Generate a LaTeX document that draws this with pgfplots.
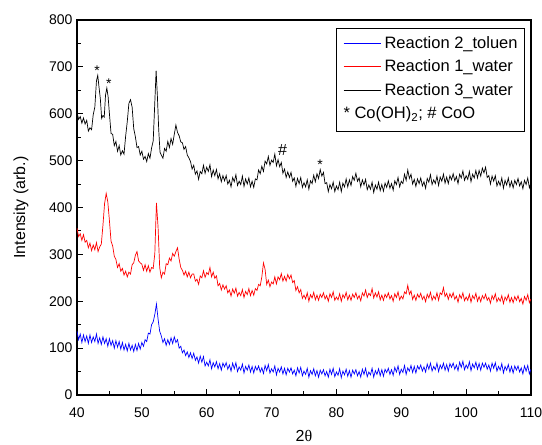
\documentclass[border=0pt]{standalone}
\usepackage{fontspec}
\setmainfont{Liberation Sans}
\newfontfamily\seriffont{Liberation Serif}
\usepackage{pgfplots}
\pgfplotsset{compat=1.18}
\newcommand{\legline}[1]{\textcolor{#1}{\rule{0pt}{0pt}}\textcolor{#1}{\rule[5pt]{37pt}{0.8pt}}\hspace{4pt}}
\begin{document}
\begin{tikzpicture}
\begin{axis}[
  scale only axis, width=454pt, height=375pt,
  xmin=40, xmax=110, ymin=0, ymax=800,
  xtick={40,50,...,110}, ytick={0,100,...,800},
  minor x tick num=1, minor y tick num=1,
  tick pos=left, tick align=inside,
  major tick length=6pt, minor tick length=4pt,
  axis line style={line width=1.1pt},
  every tick/.append style={line width=1pt, black},
  tick label style={font=\fontsize{14}{16}\selectfont},
  /pgf/number format/assume math mode=true,
  xticklabel style={yshift=-9pt},
  yticklabel style={xshift=-1pt},
  every axis y label/.style={at={(axis description cs:0,0.5)}, xshift=-56pt, rotate=90, anchor=center, font=\fontsize{16}{18}\selectfont},
  every axis x label/.style={at={(axis description cs:0.5,0)}, yshift=-41pt, anchor=center, font=\fontsize{16}{18}\selectfont},
  xlabel={2{\seriffont θ}},
  ylabel={Intensity (arb.)},
  legend style={at={(axis description cs:1,1)}, anchor=north east, xshift=-6pt, yshift=-8pt,
    font=\fontsize{16.5}{18}\selectfont, thick,
    nodes={inner sep=2pt, text height=11pt, text depth=4pt},
    inner xsep=5pt, inner ysep=7pt, row sep=4.5pt},
  legend cell align=left,
]
\addplot[draw=blue, line width=0.7pt, forget plot] coordinates {
(40,136) (40.25,118) (40.5,130) (40.75,112) (41,128) (41.25,114) (41.5,126) (41.75,110)
(42,128) (42.25,112) (42.5,124) (42.75,114) (43,130) (43.25,110) (43.5,122) (43.75,108)
(44,124) (44.25,110) (44.5,120) (44.75,104) (45,120) (45.25,106) (45.5,116) (45.75,100)
(46,116) (46.25,102) (46.5,114) (46.75,98) (47,112) (47.25,96) (47.5,108) (47.75,94)
(48,110) (48.25,96) (48.5,106) (48.75,93) (49,108) (49.25,95) (49.5,110) (49.75,98)
(50,112) (50.25,104) (50.5,118) (50.75,114) (51,132) (51.25,130) (51.5,150) (51.75,156)
(52,172) (52.25,194) (52.5,162) (52.75,136) (53,126) (53.25,112) (53.5,120) (53.75,106)
(54,118) (54.25,108) (54.5,122) (54.75,110) (55,124) (55.25,112) (55.5,118) (55.75,100)
(56,104) (56.25,90) (56.5,96) (56.75,84) (57,92) (57.25,80) (57.5,90) (57.75,78)
(58,89) (58.25,74) (58.5,81) (58.75,68) (59,83) (59.25,70) (59.5,82) (59.75,62)
(60,70) (60.25,62) (60.5,75) (60.75,56) (61,69) (61.25,60) (61.5,71) (61.75,56)
(62,67) (62.25,53) (62.5,68) (62.75,60) (63,69) (63.25,55) (63.5,64) (63.75,51)
(64,68) (64.25,56) (64.5,69) (64.75,50) (65,60) (65.25,53) (65.5,66) (65.75,47)
(66,61) (66.25,53) (66.5,64) (66.75,49) (67,61) (67.25,47) (67.5,61) (67.75,53)
(68,62) (68.25,49) (68.5,58) (68.75,46) (69,63) (69.25,52) (69.5,65) (69.75,47)
(70,56) (70.25,49) (70.5,62) (70.75,43) (71,57) (71.25,49) (71.5,60) (71.75,45)
(72,57) (72.25,43) (72.5,57) (72.75,49) (73,58) (73.25,45) (73.5,53) (73.75,41)
(74,58) (74.25,47) (74.5,59) (74.75,41) (75,51) (75.25,44) (75.5,57) (75.75,38)
(76,52) (76.25,44) (76.5,56) (76.75,41) (77,52) (77.25,38) (77.5,53) (77.75,45)
(78,54) (78.25,41) (78.5,50) (78.75,38) (79,55) (79.25,44) (79.5,57) (79.75,39)
(80,49) (80.25,42) (80.5,56) (80.75,37) (81,51) (81.25,43) (81.5,55) (81.75,40)
(82,52) (82.25,38) (82.5,53) (82.75,45) (83,54) (83.25,41) (83.5,50) (83.75,38)
(84,55) (84.25,44) (84.5,57) (84.75,39) (85,49) (85.25,43) (85.5,57) (85.75,38)
(86,52) (86.25,44) (86.5,56) (86.75,41) (87,54) (87.25,40) (87.5,55) (87.75,48)
(88,57) (88.25,44) (88.5,54) (88.75,42) (89,59) (89.25,49) (89.5,62) (89.75,44)
(90,55) (90.25,48) (90.5,63) (90.75,44) (91,58) (91.25,51) (91.5,63) (91.75,48)
(92,61) (92.25,47) (92.5,62) (92.75,55) (93,64) (93.25,51) (93.5,60) (93.75,49)
(94,66) (94.25,55) (94.5,68) (94.75,51) (95,61) (95.25,54) (95.5,68) (95.75,50)
(96,64) (96.25,56) (96.5,68) (96.75,53) (97,65) (97.25,51) (97.5,67) (97.75,59)
(98,68) (98.25,55) (98.5,64) (98.75,52) (99,70) (99.25,59) (99.5,72) (99.75,54)
(100,64) (100.25,57) (100.5,71) (100.75,52) (101,66) (101.25,58) (101.5,70) (101.75,55)
(102,67) (102.25,53) (102.5,68) (102.75,59) (103,68) (103.25,55) (103.5,64) (103.75,51)
(104,68) (104.25,57) (104.5,69) (104.75,51) (105,61) (105.25,53) (105.5,67) (105.75,47)
(106,61) (106.25,53) (106.5,65) (106.75,49) (107,61) (107.25,47) (107.5,62) (107.75,53)
(108,62) (108.25,49) (108.5,58) (108.75,45) (109,62) (109.25,51) (109.5,63) (109.75,45) (110,55)
};
\addplot[draw=red, line width=0.7pt, forget plot] coordinates {
(40,356) (40.25,338) (40.5,344) (40.75,330) (41,342) (41.25,326) (41.5,330) (41.75,314)
(42,324) (42.25,308) (42.5,320) (42.75,310) (43,325) (43.25,306) (43.5,316) (43.75,322)
(44,362) (44.25,408) (44.5,430) (44.75,412) (45,372) (45.25,328) (45.5,318) (45.75,296)
(46,289) (46.25,272) (46.5,280) (46.75,264) (47,270) (47.25,256) (47.5,264) (47.75,252)
(48,262) (48.25,258) (48.5,278) (48.75,282) (49,298) (49.25,306) (49.5,286) (49.75,282)
(50,279) (50.25,266) (50.5,278) (50.75,264) (51,276) (51.25,262) (51.5,272) (51.75,270)
(52,302) (52.25,410) (52.5,358) (52.75,272) (53,250) (53.25,262) (53.5,258) (53.75,280)
(54,278) (54.25,292) (54.5,286) (54.75,302) (55,296) (55.25,306) (55.5,314) (55.75,290)
(56,272) (56.25,266) (56.5,256) (56.75,264) (57,252) (57.25,262) (57.5,250) (57.75,258)
(58,258) (58.25,243) (58.5,247) (58.75,236) (59,254) (59.25,250) (59.5,265) (59.75,251)
(60,261) (60.25,257) (60.5,272) (60.75,252) (61,262) (61.25,249) (61.5,254) (61.75,233)
(62,238) (62.25,224) (62.5,235) (62.75,226) (63,233) (63.25,218) (63.5,224) (63.75,211)
(64,226) (64.25,217) (64.5,228) (64.75,211) (65,219) (65.25,212) (65.5,225) (65.75,208)
(66,221) (66.25,214) (66.5,227) (66.75,212) (67,223) (67.25,213) (67.5,227) (67.75,223)
(68,236) (68.25,233) (68.5,252) (68.75,282) (69,268) (69.25,236) (69.5,245) (69.75,231)
(70,241) (70.25,237) (70.5,252) (70.75,237) (71,252) (71.25,246) (71.5,259) (71.75,243)
(72,253) (72.25,243) (72.5,257) (72.75,248) (73,256) (73.25,240) (73.5,244) (73.75,223)
(74,231) (74.25,218) (74.5,225) (74.75,206) (75,213) (75.25,205) (75.5,218) (75.75,200)
(76,214) (76.25,207) (76.5,219) (76.75,203) (77,213) (77.25,202) (77.5,215) (77.75,208)
(78,218) (78.25,205) (78.5,212) (78.75,200) (79,216) (79.25,208) (79.5,220) (79.75,202)
(80,209) (80.25,203) (80.5,216) (80.75,200) (81,214) (81.25,207) (81.5,219) (81.75,203)
(82,213) (82.25,202) (82.5,215) (82.75,208) (83,218) (83.25,205) (83.5,212) (83.75,201)
(84,218) (84.25,211) (84.5,224) (84.75,208) (85,217) (85.25,212) (85.5,227) (85.75,207)
(86,218) (86.25,209) (86.5,220) (86.75,203) (87,213) (87.25,202) (87.5,215) (87.75,208)
(88,218) (88.25,205) (88.5,212) (88.75,200) (89,216) (89.25,208) (89.5,220) (89.75,203)
(90,211) (90.25,205) (90.5,220) (90.75,216) (91,234) (91.25,215) (91.5,222) (91.75,204)
(92,213) (92.25,202) (92.5,215) (92.75,208) (93,217) (93.25,204) (93.5,211) (93.75,199)
(94,215) (94.25,207) (94.5,219) (94.75,202) (95,211) (95.25,204) (95.5,218) (95.75,202)
(96,218) (96.25,214) (96.5,229) (96.75,210) (97,217) (97.25,204) (97.5,216) (97.75,208)
(98,218) (98.25,204) (98.5,211) (98.75,198) (99,214) (99.25,206) (99.5,218) (99.75,201)
(100,209) (100.25,202) (100.5,215) (100.75,198) (101,212) (101.25,205) (101.5,217) (101.75,200)
(102,210) (102.25,199) (102.5,212) (102.75,205) (103,215) (103.25,202) (103.5,208) (103.75,196)
(104,212) (104.25,204) (104.5,216) (104.75,199) (105,207) (105.25,200) (105.5,212) (105.75,195)
(106,209) (106.25,202) (106.5,214) (106.75,198) (107,208) (107.25,197) (107.5,210) (107.75,202)
(108,212) (108.25,199) (108.5,206) (108.75,194) (109,210) (109.25,202) (109.5,214) (109.75,197) (110,205)
};
\addplot[draw=black, line width=0.7pt, forget plot] coordinates {
(40,604) (40.25,588) (40.5,594) (40.75,580) (41,591) (41.25,578) (41.5,586) (41.75,563)
(42,570) (42.25,566) (42.5,598) (42.75,614) (43,670) (43.2,682) (43.4,656) (43.6,632)
(43.8,590) (44,596) (44.2,593) (44.4,640) (44.6,655) (44.8,636) (45,600) (45.25,558)
(45.5,556) (45.75,532) (46,541) (46.25,520) (46.5,532) (46.75,512) (47,521) (47.25,514)
(47.5,552) (47.75,583) (48,622) (48.25,630) (48.5,614) (48.75,568) (49,551) (49.25,528)
(49.5,530) (49.75,512) (50,520) (50.25,503) (50.5,509) (50.75,498) (51,515) (51.25,505)
(51.5,527) (51.75,542) (52,625) (52.2,692) (52.4,636) (52.6,566) (52.8,518) (53,512)
(53.25,505) (53.5,526) (53.75,520) (54,541) (54.25,528) (54.5,547) (54.75,535) (55,556)
(55.25,576) (55.5,560) (55.75,553) (56,540) (56.25,538) (56.5,524) (56.75,530) (57,512)
(57.25,506) (57.5,498) (57.75,482)
(58,490) (58.25,471) (58.5,478) (58.75,460) (59,477) (59.25,472) (59.5,490) (59.75,473)
(60,486) (60.25,477) (60.5,491) (60.75,466) (61,480) (61.25,468) (61.5,481) (61.75,461)
(62,472) (62.25,455) (62.5,468) (62.75,457) (63,468) (63.25,450) (63.5,458) (63.75,444)
(64,464) (64.25,455) (64.5,470) (64.75,447) (65,456) (65.25,449) (65.5,467) (65.75,445)
(66,461) (66.25,450) (66.5,463) (66.75,444) (67,456) (67.25,443) (67.5,461) (67.75,459)
(68,480) (68.25,472) (68.5,488) (68.75,477) (69,499) (69.25,493) (69.5,509) (69.75,490)
(70,501) (70.25,496) (70.5,514) (70.75,489) (71,502) (71.25,487) (71.5,496) (71.75,473)
(72,482) (72.25,464) (72.5,476) (72.75,464) (73,475) (73.25,456) (73.5,463) (73.75,445)
(74,462) (74.25,451) (74.5,464) (74.75,443) (75,453) (75.25,444) (75.5,459) (75.75,439)
(76,457) (76.25,451) (76.5,469) (76.75,455) (77,472) (77.25,462) (77.5,481) (77.75,467)
(78,475) (78.25,451) (78.5,453) (78.75,434) (79,449) (79.25,440) (79.5,454) (79.75,434)
(80,446) (80.25,438) (80.5,454) (80.75,434) (81,452) (81.25,444) (81.5,461) (81.75,444)
(82,459) (82.25,447) (82.5,466) (82.75,458) (83,473) (83.25,456) (83.5,463) (83.75,444)
(84,459) (84.25,448) (84.5,460) (84.75,438) (85,448) (85.25,439) (85.5,454) (85.75,432)
(86,448) (86.25,439) (86.5,454) (86.75,436) (87,449) (87.25,435) (87.5,452) (87.75,443)
(88,457) (88.25,441) (88.5,451) (88.75,437) (89,457) (89.25,449) (89.5,464) (89.75,444)
(90,456) (90.25,451) (90.5,471) (90.75,458) (91,480) (91.25,462) (91.5,471) (91.75,450)
(92,460) (92.25,445) (92.5,461) (92.75,451) (93,463) (93.25,446) (93.5,455) (93.75,441)
(94,462) (94.25,454) (94.5,470) (94.75,449) (95,459) (95.25,451) (95.5,467) (95.75,447)
(96,465) (96.25,456) (96.5,471) (96.75,452) (97,465) (97.25,451) (97.5,468) (97.75,459)
(98,472) (98.25,457) (98.5,466) (98.75,451) (99,471) (99.25,463) (99.5,478) (99.75,458)
(100,468) (100.25,460) (100.5,477) (100.75,455) (101,471) (101.25,463) (101.5,479) (101.75,463)
(102,479) (102.25,467) (102.5,484) (102.75,474) (103,486) (103.25,464) (103.5,468) (103.75,450)
(104,467) (104.25,456) (104.5,468) (104.75,446) (105,456) (105.25,447) (105.5,463) (105.75,441)
(106,458) (106.25,448) (106.5,463) (106.75,444) (107,456) (107.25,442) (107.5,458) (107.75,449)
(108,462) (108.25,446) (108.5,455) (108.75,440) (109,458) (109.25,449) (109.5,463) (109.75,442) (110,453)
};
\addlegendimage{empty legend}
\addlegendentry{\legline{blue}Reaction 2\_toluen}
\addlegendimage{empty legend}
\addlegendentry{\legline{red}Reaction 1\_water}
\addlegendimage{empty legend}
\addlegendentry{\legline{black}Reaction 3\_water}
\addlegendimage{empty legend}
\addlegendentry{* Co(OH)\textsubscript{2}; \# CoO}
\node[font=\fontsize{14}{14}\selectfont] at (axis cs:43.1,691) {*};
\node[font=\fontsize{14}{14}\selectfont] at (axis cs:44.9,664) {*};
\node[font=\fontsize{16}{16}\selectfont] at (axis cs:71.7,522) {\#};
\node[font=\fontsize{14}{14}\selectfont] at (axis cs:77.5,491) {*};
\end{axis}
\pgfresetboundingbox
\path (current axis.south west) ++(-77pt,-50pt) rectangle ++(542pt,445pt);
\end{tikzpicture}
\end{document}
